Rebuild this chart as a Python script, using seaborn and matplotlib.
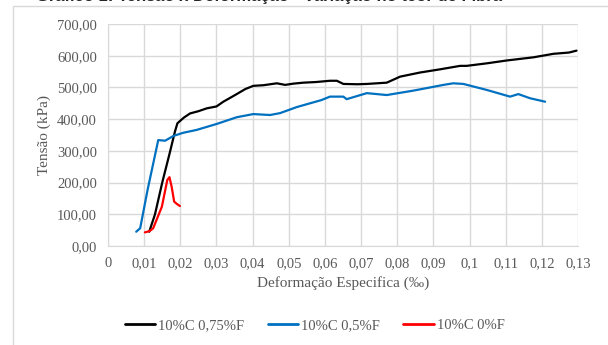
import numpy as np
import pandas as pd
import matplotlib
matplotlib.use("Agg")
import matplotlib.pyplot as plt
import seaborn as sns
from matplotlib.ticker import FuncFormatter, MultipleLocator
from matplotlib.patches import Rectangle

# curve 10%C 0,75%F (black)
x_075 = [0.0114, 0.0130, 0.0150, 0.0170, 0.0185, 0.0192, 0.0210, 0.0227, 0.0250, 0.0273, 0.0300,
         0.0319, 0.0350, 0.0380, 0.0402, 0.0430, 0.0467, 0.0490, 0.0513, 0.0540, 0.0575, 0.0614,
         0.0633, 0.0651, 0.0690, 0.0716, 0.0771, 0.0808, 0.0863, 0.0918, 0.0974, 0.0992, 0.1048,
         0.1103, 0.1177, 0.1232, 0.1275, 0.1296]
y_075 = [45, 100, 200, 290, 360, 387, 405, 418, 425, 434, 440,
         455, 475, 495, 505, 507, 513, 508, 512, 515, 517, 521,
         521, 511, 510, 511, 515, 534, 547, 557, 568, 568, 576,
         585, 595, 606, 610, 616]

# curve 10%C 0,5%F (blue)
x_05 = [0.0078, 0.0089, 0.0110, 0.0139, 0.0158, 0.0181, 0.0208, 0.0245, 0.0301, 0.0356, 0.0402,
        0.0448, 0.0476, 0.0522, 0.0559, 0.0590, 0.0614, 0.0651, 0.0660, 0.0716, 0.0771, 0.0845,
        0.0928, 0.0955, 0.0983, 0.1048, 0.1112, 0.1135, 0.1167, 0.1209]
y_05 = [45, 56, 180, 334, 332, 347, 357, 366, 385, 406, 416,
        413, 419, 438, 450, 460, 471, 471, 463, 482, 476, 490,
        508, 513, 511, 492, 471, 479, 466, 455]

# curve 10%C 0%F (red)
x_0 = [0.0102, 0.0115, 0.0125, 0.0149, 0.0164, 0.0170, 0.0176, 0.0183, 0.0190, 0.0199]
y_0 = [43, 47, 56, 124, 208, 217, 187, 140, 133, 126]

series = ["10%C 0,75%F", "10%C 0,5%F", "10%C 0%F"]
colors = ["#000000", "#0070C0", "#FF0000"]

df = pd.concat([
    pd.DataFrame({"x": x_075, "y": y_075, "s": series[0]}),
    pd.DataFrame({"x": x_05, "y": y_05, "s": series[1]}),
    pd.DataFrame({"x": x_0, "y": y_0, "s": series[2]}),
], ignore_index=True)

sns.set_style("white")
plt.rcParams["font.family"] = ["Liberation Serif", "DejaVu Serif"]

fig = plt.figure(figsize=(6.08, 3.45), dpi=100)
ax = fig.add_axes([108/608, 1-246/345, 470/608, 222/345])

# chart frame (cut off at top/right like a screenshot)
fig.patches.append(Rectangle((13/608, -0.1), 1.2, 1 - 6/345 + 0.1, transform=fig.transFigure,
                             fill=False, edgecolor="#d9d9d9", linewidth=1))
# title is cut off at the top edge in the source screenshot
fig.text(0.06, 1.0 + 0.009, "Gráfico 1: Tensão x Deformação - Variação no teor de Fibra",
         fontsize=12, fontweight="bold", ha="left", va="center", family="Liberation Sans")

sns.lineplot(data=df, x="x", y="y", hue="s", palette=colors, sort=False, estimator=None,
             linewidth=1.6, ax=ax)

ax.set_xlim(0, 0.13)
ax.set_ylim(0, 700)
ax.xaxis.set_major_locator(MultipleLocator(0.01))
ax.yaxis.set_major_locator(MultipleLocator(100))

def xfmt(v, p):
    s = ("%.2f" % v).rstrip("0").rstrip(".")
    return s.replace(".", ",")

ax.xaxis.set_major_formatter(FuncFormatter(xfmt))
ax.yaxis.set_major_formatter(FuncFormatter(lambda v, p: ("%.2f" % v).replace(".", ",")))
ax.grid(True, color="#d9d9d9", linewidth=1)
for s in ["top", "right"]:
    ax.spines[s].set_visible(False)
ax.spines["left"].set_color("#d9d9d9")
ax.spines["bottom"].set_color("#d9d9d9")
ax.tick_params(axis="both", length=0, labelsize=10.5, colors="#595959", pad=8)

ax.set_xlabel("Deformação Especifica (‰)", fontsize=11, color="#595959", labelpad=4)
ax.set_ylabel("Tensão (kPa)", fontsize=11, color="#595959", labelpad=4)

ax.legend(loc="upper center", bbox_to_anchor=(0.44, -0.27), ncol=3, frameon=False,
          fontsize=10.5, handlelength=2.1, columnspacing=1.6, handletextpad=0.2,
          labelcolor="#595959")
for line in ax.get_legend().get_lines():
    line.set_linewidth(2)

fig.savefig("out.png", dpi=100)
